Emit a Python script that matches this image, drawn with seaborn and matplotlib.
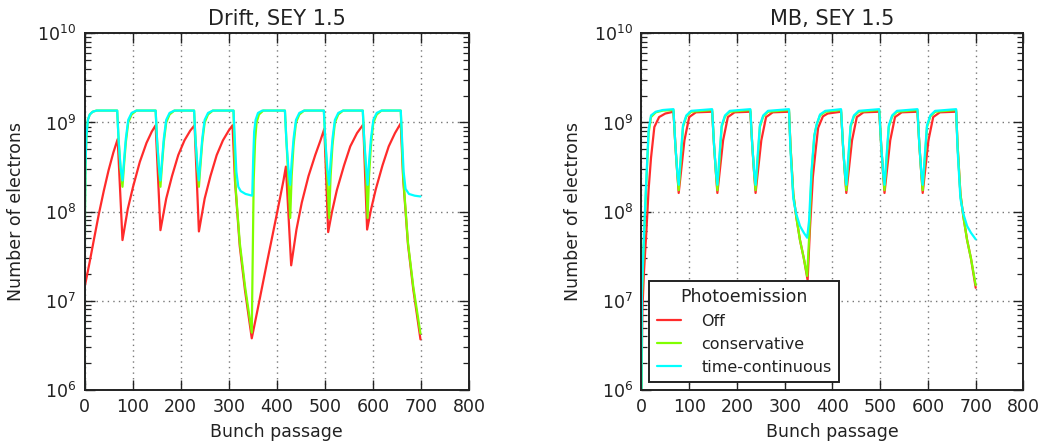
import matplotlib
matplotlib.use("Agg")
import matplotlib.pyplot as plt
from matplotlib.ticker import LogLocator, NullFormatter
import seaborn as sns
import pandas as pd

# ---------------- data: Drift, SEY 1.5 ----------------
drift_x_off = [0, 10, 20, 30, 40, 50, 60, 69,
               79, 90, 101, 115, 129, 140, 148,
               158, 170, 182, 195, 208, 220, 229,
               238, 250, 262, 275, 288, 300, 308,
               313, 323, 334, 348,
               360, 380, 400, 414, 419,
               430, 441, 452, 466, 480, 491, 499,
               507, 515, 525, 540, 553, 567, 580,
               588, 596, 606, 620, 633, 646, 658,
               663, 673, 684, 699]
drift_off = [1.4e7, 2.6e7, 5.0e7, 9.5e7, 1.7e8, 2.9e8, 4.6e8, 6.5e8,
             4.8e7, 1.07e8, 1.9e8, 3.6e8, 5.9e8, 7.9e8, 9.3e8,
             6.2e7, 1.4e8, 2.5e8, 4.3e8, 6.3e8, 8.1e8, 9.3e8,
             6.0e7, 1.4e8, 2.5e8, 4.3e8, 6.3e8, 8.1e8, 9.3e8,
             2.24e8, 4.1e7, 1.3e7, 3.8e6,
             7.9e6, 2.75e7, 9.3e7, 2.24e8, 3.2e8,
             2.5e7, 6.3e7, 1.26e8, 2.5e8, 4.3e8, 6.3e8, 8.5e8,
             5.9e7, 1.0e8, 1.74e8, 3.3e8, 5.4e8, 7.6e8, 9.5e8,
             6.3e7, 1.05e8, 1.78e8, 3.3e8, 5.4e8, 7.6e8, 9.8e8,
             2.34e8, 4.3e7, 1.35e7, 3.7e6]

drift_x_cons = [0, 1, 2, 4, 7, 11, 17, 25,
                68, 71, 75, 79, 82, 86, 91, 98, 108,
                148, 151, 155, 158, 161, 165, 170, 177, 187,
                228, 231, 235, 238, 241, 245, 250, 257, 267,
                310, 314, 323, 334, 348, 352, 355, 358, 363, 372,
                417, 420, 424, 428, 431, 435, 440, 447, 457,
                498, 501, 505, 509, 512, 516, 521, 528, 538,
                579, 582, 586, 589, 592, 596, 601, 608, 618,
                658, 663, 673, 684, 699]
drift_cons = [1.0e6, 1.0e8, 3.2e8, 7.1e8, 1.07e9, 1.23e9, 1.32e9, 1.36e9,
              1.36e9, 6.3e8, 3.0e8, 1.9e8, 3.2e8, 6.0e8, 1.0e9, 1.23e9, 1.36e9,
              1.36e9, 6.3e8, 3.0e8, 1.9e8, 3.2e8, 6.0e8, 1.0e9, 1.23e9, 1.36e9,
              1.36e9, 6.3e8, 3.0e8, 1.9e8, 3.2e8, 6.0e8, 1.0e9, 1.23e9, 1.36e9,
              1.36e9, 2.0e8, 4.5e7, 1.45e7, 4.4e6, 2.24e8, 6.3e8, 1.0e9, 1.23e9, 1.36e9,
              1.36e9, 6.3e8, 2.5e8, 8.5e7, 2.5e8, 5.6e8, 1.0e9, 1.23e9, 1.36e9,
              1.36e9, 6.3e8, 2.5e8, 8.5e7, 2.5e8, 5.6e8, 1.0e9, 1.23e9, 1.36e9,
              1.36e9, 6.3e8, 2.5e8, 8.5e7, 2.5e8, 5.6e8, 1.0e9, 1.23e9, 1.36e9,
              1.36e9, 2.5e8, 4.5e7, 1.45e7, 4.3e6]

drift_x_cont = [0, 1, 2, 4, 7, 11, 17, 25,
                68, 71, 75, 79, 82, 86, 91, 98, 108,
                148, 151, 155, 158, 161, 165, 170, 177, 187,
                228, 231, 235, 238, 241, 245, 250, 257, 267,
                310, 313, 316, 320, 325, 335, 349, 351, 353, 356, 361, 370,
                417, 420, 424, 428, 431, 435, 440, 447, 457,
                498, 501, 505, 509, 512, 516, 521, 528, 538,
                579, 582, 586, 589, 592, 596, 601, 608, 618,
                658, 661, 664, 668, 675, 687, 699]
drift_cont = [1.0e6, 1.0e8, 3.2e8, 7.1e8, 1.07e9, 1.23e9, 1.32e9, 1.36e9,
              1.36e9, 6.3e8, 3.16e8, 2.24e8, 3.6e8, 6.6e8, 1.07e9, 1.28e9, 1.36e9,
              1.36e9, 6.3e8, 3.16e8, 2.24e8, 3.6e8, 6.6e8, 1.07e9, 1.28e9, 1.36e9,
              1.36e9, 6.3e8, 3.16e8, 2.24e8, 3.6e8, 6.6e8, 1.07e9, 1.28e9, 1.36e9,
              1.36e9, 6.0e8, 2.8e8, 1.9e8, 1.7e8, 1.58e8, 1.51e8, 4.0e8, 7.9e8, 1.07e9, 1.28e9, 1.36e9,
              1.36e9, 6.3e8, 3.16e8, 2.0e8, 3.6e8, 6.6e8, 1.07e9, 1.28e9, 1.36e9,
              1.36e9, 6.3e8, 3.16e8, 2.0e8, 3.6e8, 6.6e8, 1.07e9, 1.28e9, 1.36e9,
              1.36e9, 6.3e8, 3.16e8, 2.0e8, 3.6e8, 6.6e8, 1.07e9, 1.28e9, 1.36e9,
              1.36e9, 6.0e8, 2.8e8, 1.8e8, 1.58e8, 1.51e8, 1.48e8]

# ---------------- data: MB, SEY 1.5 ----------------
mb_x_off = [0, 2, 5, 10, 15, 20, 27, 37, 50,
            67, 71, 75, 78, 84, 90, 100, 114,
            148, 152, 156, 159, 165, 171, 181, 195,
            228, 232, 236, 239, 245, 251, 261, 275,
            309, 312, 318, 324, 332, 340, 348, 353, 359, 365, 370, 380, 390,
            418, 422, 426, 429, 435, 441, 451, 465,
            498, 502, 506, 509, 515, 521, 531, 545,
            578, 582, 586, 589, 595, 601, 611, 625,
            659, 662, 668, 674, 682, 690, 700]
mb_off = [1.0e6, 7.9e6, 2.0e7, 5.6e7, 1.78e8, 4.0e8, 8.9e8, 1.15e9, 1.26e9,
          1.32e9, 5.6e8, 2.7e8, 1.62e8, 3.2e8, 6.3e8, 1.15e9, 1.3e9,
          1.32e9, 5.6e8, 2.7e8, 1.62e8, 3.2e8, 6.3e8, 1.15e9, 1.3e9,
          1.32e9, 5.6e8, 2.7e8, 1.62e8, 3.2e8, 6.3e8, 1.15e9, 1.3e9,
          1.32e9, 5.6e8, 1.58e8, 8.9e7, 4.8e7, 3.0e7, 1.7e7, 6.6e7, 2.45e8, 5.0e8, 8.7e8, 1.17e9, 1.26e9,
          1.32e9, 5.6e8, 2.7e8, 1.62e8, 3.2e8, 6.3e8, 1.15e9, 1.3e9,
          1.32e9, 5.6e8, 2.7e8, 1.62e8, 3.2e8, 6.3e8, 1.15e9, 1.3e9,
          1.32e9, 5.6e8, 2.7e8, 1.62e8, 3.2e8, 6.3e8, 1.15e9, 1.3e9,
          1.32e9, 5.6e8, 1.58e8, 8.9e7, 4.8e7, 3.0e7, 1.4e7]

mb_x_cons = [0, 1, 5, 10, 15, 20, 30, 45,
             67, 71, 75, 78, 82, 87, 94, 104,
             148, 152, 156, 159, 163, 168, 175, 185,
             228, 232, 236, 239, 243, 248, 255, 265,
             309, 312, 318, 324, 332, 340, 347, 351, 356, 362, 367, 374, 385,
             418, 422, 426, 429, 433, 438, 445, 455,
             498, 502, 506, 509, 513, 518, 525, 535,
             578, 582, 586, 589, 593, 598, 605, 615,
             659, 662, 668, 674, 682, 690, 700]
mb_cons = [1.0e6, 1.1e7, 4.5e7, 2.0e8, 7.6e8, 1.15e9, 1.3e9, 1.36e9,
           1.38e9, 5.6e8, 2.7e8, 1.74e8, 3.5e8, 8.9e8, 1.17e9, 1.32e9,
           1.38e9, 5.6e8, 2.7e8, 1.74e8, 3.5e8, 8.9e8, 1.17e9, 1.32e9,
           1.38e9, 5.6e8, 2.7e8, 1.74e8, 3.5e8, 8.9e8, 1.17e9, 1.32e9,
           1.38e9, 5.6e8, 1.58e8, 8.9e7, 4.8e7, 3.0e7, 1.9e7, 5.0e7, 2.5e8, 7.1e8, 9.5e8, 1.2e9, 1.32e9,
           1.38e9, 5.6e8, 2.7e8, 1.74e8, 3.5e8, 8.9e8, 1.17e9, 1.32e9,
           1.38e9, 5.6e8, 2.7e8, 1.74e8, 3.5e8, 8.9e8, 1.17e9, 1.32e9,
           1.38e9, 5.6e8, 2.7e8, 1.74e8, 3.5e8, 8.9e8, 1.17e9, 1.32e9,
           1.38e9, 5.6e8, 1.58e8, 8.9e7, 4.8e7, 3.0e7, 1.5e7]

mb_x_cont = [0, 1, 5, 10, 15, 20, 30, 45,
             67, 71, 75, 78, 82, 87, 94, 104,
             148, 152, 156, 159, 163, 168, 175, 185,
             228, 232, 236, 239, 243, 248, 255, 265,
             309, 312, 318, 324, 332, 340, 347, 351, 356, 362, 367, 374, 385,
             418, 422, 426, 429, 433, 438, 445, 455,
             498, 502, 506, 509, 513, 518, 525, 535,
             578, 582, 586, 589, 593, 598, 605, 615,
             659, 662, 668, 674, 682, 690, 700]
mb_cont = [1.0e6, 1.3e7, 5.0e7, 2.2e8, 8.3e8, 1.2e9, 1.32e9, 1.38e9,
           1.41e9, 5.6e8, 2.8e8, 2.0e8, 4.0e8, 9.3e8, 1.2e9, 1.35e9,
           1.41e9, 5.6e8, 2.8e8, 2.0e8, 4.0e8, 9.3e8, 1.2e9, 1.35e9,
           1.41e9, 5.6e8, 2.8e8, 2.0e8, 4.0e8, 9.3e8, 1.2e9, 1.35e9,
           1.41e9, 5.0e8, 1.4e8, 9.5e7, 6.9e7, 5.8e7, 5.1e7, 7.9e7, 2.8e8, 7.1e8, 9.5e8, 1.23e9, 1.35e9,
           1.41e9, 5.6e8, 2.8e8, 2.0e8, 4.0e8, 9.3e8, 1.2e9, 1.35e9,
           1.41e9, 5.6e8, 2.8e8, 2.0e8, 4.0e8, 9.3e8, 1.2e9, 1.35e9,
           1.41e9, 5.6e8, 2.8e8, 2.0e8, 4.0e8, 9.3e8, 1.2e9, 1.35e9,
           1.41e9, 5.0e8, 1.4e8, 9.5e7, 6.9e7, 5.8e7, 4.9e7]

modes = ["Off", "conservative", "time-continuous"]
mode_colors = {"Off": "#ff2b2b", "conservative": "#80ff00", "time-continuous": "#00ffff"}
titles = ["Drift, SEY 1.5", "MB, SEY 1.5"]


def to_frame(series):
    parts = []
    for mode, (xs, ys) in zip(modes, series):
        parts.append(pd.DataFrame({"bunch": xs, "electrons": ys, "Photoemission": mode}))
    return pd.concat(parts, ignore_index=True)


panels = [
    to_frame([(drift_x_off, drift_off), (drift_x_cons, drift_cons), (drift_x_cont, drift_cont)]),
    to_frame([(mb_x_off, mb_off), (mb_x_cons, mb_cons), (mb_x_cont, mb_cont)]),
]

# ---------------- style ----------------
sns.set_style("white")
text_color = "#222222"
plt.rcParams.update({
    "font.family": ["DejaVu Sans"],
    "text.color": text_color,
    "axes.labelcolor": text_color,
    "xtick.color": "#222222",
    "ytick.color": "#222222",
    "axes.edgecolor": "#222222",
    "axes.linewidth": 1.4,
})

fig = plt.figure(figsize=(10.42, 4.44), dpi=100)
axes = [fig.add_axes([0.0811, 0.1216, 0.369, 0.8034]),
        fig.add_axes([0.6156, 0.1216, 0.3666, 0.8034])]

for ax, df, title in zip(axes, panels, titles):
    sns.lineplot(data=df, x="bunch", y="electrons", hue="Photoemission",
                 hue_order=modes, palette=mode_colors, estimator=None,
                 linewidth=1.6, legend=False, ax=ax)
    ax.set_yscale("log")
    ax.set_xlim(0, 800)
    ax.set_ylim(1e6, 1e10)
    ax.set_xticks(range(0, 801, 100))
    ax.yaxis.set_major_locator(LogLocator(base=10, numticks=10))
    ax.yaxis.set_minor_locator(LogLocator(base=10, subs=[2, 3, 4, 5, 6, 7, 8, 9], numticks=20))
    ax.yaxis.set_minor_formatter(NullFormatter())
    ax.set_title(title, fontsize=15, pad=6)
    ax.set_xlabel("Bunch passage", fontsize=12.5, labelpad=5)
    ax.set_ylabel("Number of electrons", fontsize=12.5, labelpad=9)
    ax.grid(True, which="major", linestyle=(0, (1, 3)), color="#777777", linewidth=1.0)
    ax.grid(False, which="minor")
    ax.tick_params(which="both", direction="in", left=True, bottom=True,
                   top=True, right=True, labelsize=12.5, pad=6)
    ax.tick_params(which="major", length=7, width=1.0, color="#222222")
    ax.tick_params(which="minor", length=4, width=0.9, color="#222222")
    for sp in ax.spines.values():
        sp.set_visible(True)

handles = axes[1].get_lines()[:3]
leg = axes[1].legend(handles, modes, title="Photoemission", loc="lower left",
                     fontsize=11.5, title_fontsize=12.5, frameon=True,
                     fancybox=False, framealpha=1, edgecolor="#222222",
                     handlelength=1.5, handletextpad=1.3, labelspacing=0.5,
                     borderaxespad=0.5, borderpad=0.45)
leg.get_frame().set_linewidth(1.4)

fig.savefig("out.png", dpi=100)
